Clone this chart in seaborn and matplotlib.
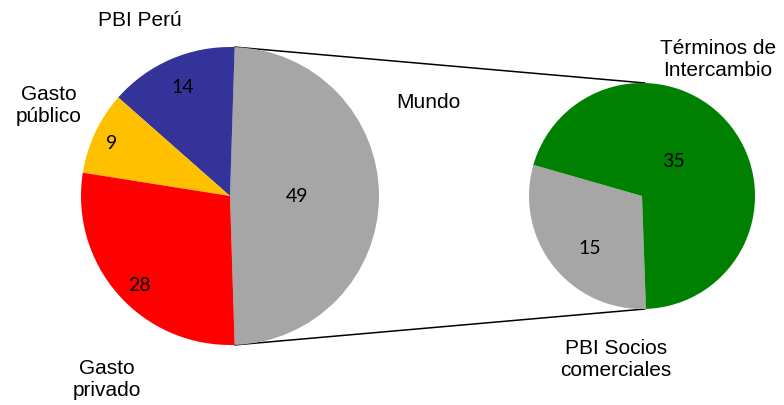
import matplotlib
matplotlib.use("Agg")
import matplotlib.pyplot as plt
import numpy as np
import seaborn as sns

# main pie (left)
main_labels = ["Mundo", "PBI Perú", "Gasto\npúblico", "Gasto\nprivado"]
main_values = [49, 14, 9, 28]
main_colors = ["#A6A6A6", "#333399", "#FFC000", "#FF0000"]

# breakdown of "Mundo" (right)
sub_labels = ["PBI Socios\ncomerciales", "Términos de\nIntercambio"]
sub_values = [15, 35]
sub_colors = ["#A6A6A6", "#008000"]

sns.set_theme(style="white")
plt.rcParams["font.family"] = ["Liberation Sans", "DejaVu Sans"]

fig = plt.figure(figsize=(7.84, 4.06), dpi=100)
ax = fig.add_axes([0, 0, 1, 1])

main_c, main_r = (230, 209), 149
sub_c, sub_r = (642, 209), 113

# Mundo slice centred on the right side
start_main = -main_values[0] / sum(main_values) * 360 / 2
wm, _ = ax.pie(main_values, colors=main_colors, startangle=start_main,
               counterclock=True, center=main_c, radius=main_r,
               wedgeprops={"linewidth": 0}, frame=True)
ws, _ = ax.pie(sub_values, colors=sub_colors, startangle=164,
               counterclock=True, center=sub_c, radius=sub_r,
               wedgeprops={"linewidth": 0}, frame=True)
ax.set_xlim(0, 784)
ax.set_ylim(0, 406)
ax.set_aspect("auto")
ax.axis("off")

num_font = dict(family=["Lato", "DejaVu Sans"], fontsize=14, color="black",
                ha="center", va="center")


def put_value(w, val, frac, shift=0):
    ang = np.deg2rad((w.theta1 + w.theta2) / 2 + shift)
    cx, cy = w.center
    ax.text(cx + frac * w.r * np.cos(ang), cy + frac * w.r * np.sin(ang),
            str(val), **num_font)


for w, v, f, s in zip(wm, main_values, [0.45, 0.8, 0.87, 0.85], [0, 0, 1, 3]):
    put_value(w, v, f, s)
put_value(ws[0], sub_values[0], 0.65, 7)
put_value(ws[1], sub_values[1], 0.42, 11)

# connector lines from Mundo slice to the second pie
mundo = wm[0]
for th, sy in [(mundo.theta2, 1), (mundo.theta1, -1)]:
    x0 = main_c[0] + main_r * np.cos(np.deg2rad(th))
    y0 = main_c[1] + main_r * np.sin(np.deg2rad(th))
    ax.plot([x0, sub_c[0] + 3], [y0, sub_c[1] + sy * sub_r],
            color="black", lw=1.1, zorder=0)

lab = dict(fontsize=15, color="black", va="center", ha="center",
           linespacing=1.2)
ax.text(140, 386, main_labels[1], **lab)
ax.text(49, 301, main_labels[2], **lab)
ax.text(107, 26, main_labels[3], **lab)
ax.text(428, 303, main_labels[0], **lab)
ax.text(718, 346, sub_labels[1], **lab)
ax.text(616, 46, sub_labels[0], **lab)

fig.savefig("out.png", dpi=100)
